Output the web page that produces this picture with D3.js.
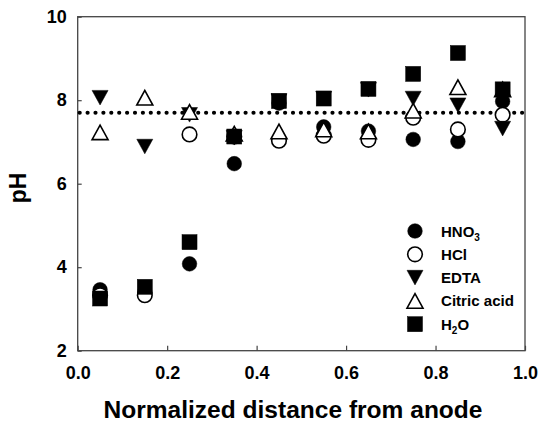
<!DOCTYPE html>
<html>
<head>
<meta charset="utf-8">
<script src="https://cdn.jsdelivr.net/npm/d3@7"></script>
<style>
    body { margin: 0; background: #fff; }
    text { font-family: Arial, "Liberation Sans", sans-serif; font-weight: bold; fill: #000; }
</style>
</head>
<body>
<div id="chart"></div>
<script>
// distance positions
var distance = [0.05, 0.15, 0.25, 0.35, 0.45, 0.55, 0.65, 0.75, 0.85, 0.95];

// pH values
var hno3 = [3.46, 3.40, 4.08, 6.48, 7.93, 7.36, 7.26, 7.06, 7.01, 7.97];
var hcl = [3.33, 3.33, 7.18, 7.13, 7.03, 7.15, 7.05, 7.58, 7.30, 7.65];
var edta = [8.06, 6.89, 7.65, 7.10, 7.98, 8.04, 8.25, 8.04, 7.88, 7.32];
var citric = [7.23, 8.06, 7.72, 7.20, 7.25, 7.30, 7.25, 7.75, 8.31, 8.26];
var water = [3.25, 3.53, 4.60, 7.13, 7.98, 8.04, 8.27, 8.63, 9.13, 8.26];

var initialPH = 7.7;

var seriesNames = ["HNO3", "HCl", "EDTA", "Citric acid", "H2O"];
var seriesValues = [hno3, hcl, edta, citric, water];
var seriesShapes = ["circle", "circle", "down", "up", "square"];
var seriesFilled = [true, false, true, false, true];

var xTicks = [0, 0.2, 0.4, 0.6, 0.8, 1.0];
var yTicks = [2, 4, 6, 8, 10];

var margin = { top: 16.7, right: 16, bottom: 73.3, left: 77.7 };
var width = 541 - margin.left - margin.right,
    height = 424 - margin.top - margin.bottom;

var svg = d3.select("#chart").append("svg")
    .attr("width", 541)
    .attr("height", 424)
    .append("g")
    .attr("transform", "translate(" + margin.left + "," + margin.top + ")");

var x = d3.scaleLinear().domain([0, 1]).range([0, width]);
var y = d3.scaleLinear().domain([2, 10]).range([height, 0]);

var xAxis = d3.axisBottom(x)
    .tickValues(xTicks)
    .tickFormat(d3.format(".1f"))
    .tickSizeInner(-5)
    .tickSizeOuter(0)
    .tickPadding(16);

var yAxis = d3.axisLeft(y)
    .tickValues(yTicks)
    .tickFormat(d3.format("d"))
    .tickSizeInner(-4)
    .tickSizeOuter(0)
    .tickPadding(11);

var xAxisElem = svg.append("g")
    .attr("transform", "translate(0," + height + ")")
    .call(xAxis);
xAxisElem.select(".domain").remove();
xAxisElem.selectAll("text").attr("font-size", "18px").attr("font-family", null);
xAxisElem.selectAll("line").attr("stroke", "#444").attr("stroke-width", 1.2);

var yAxisElem = svg.append("g").call(yAxis);
yAxisElem.select(".domain").remove();
yAxisElem.selectAll("text").attr("font-size", "18px").attr("font-family", null);
yAxisElem.selectAll("line").attr("stroke", "#444").attr("stroke-width", 1.2);

// frame
svg.append("rect")
    .attr("width", width)
    .attr("height", height)
    .attr("fill", "none")
    .attr("stroke", "#444")
    .attr("stroke-width", 1.3);

// dotted reference line
svg.append("line")
    .attr("x1", 2)
    .attr("x2", width)
    .attr("y1", y(initialPH))
    .attr("y2", y(initialPH))
    .attr("stroke", "#000")
    .attr("stroke-width", 4.2)
    .attr("stroke-linecap", "round")
    .attr("stroke-dasharray", "0 7.9");

function drawMarker(g, shape, filled, cx, cy) {
    var fill = filled ? "#000" : "#fff";
    var el;
    if (shape == "circle") {
        el = g.append("circle").attr("cx", cx).attr("cy", cy).attr("r", 7.3);
    } else if (shape == "square") {
        el = g.append("rect").attr("x", cx - 7.5).attr("y", cy - 7.5)
            .attr("width", 15).attr("height", 15);
    } else if (shape == "up") {
        el = g.append("path").attr("d", "M" + cx + "," + (cy - 7.3) +
            "L" + (cx + 8) + "," + (cy + 7.3) + "L" + (cx - 8) + "," + (cy + 7.3) + "Z");
    } else {
        el = g.append("path").attr("d", "M" + cx + "," + (cy + 7.3) +
            "L" + (cx + 8) + "," + (cy - 7.3) + "L" + (cx - 8) + "," + (cy - 7.3) + "Z");
    }
    el.attr("fill", fill)
        .attr("stroke", "#000")
        .attr("stroke-width", filled ? 0.5 : 1.6);
}

var points = svg.append("g");
seriesValues.forEach(function(vals, i) {
    vals.forEach(function(v, j) {
        drawMarker(points, seriesShapes[i], seriesFilled[i], x(distance[j]), y(v));
    });
});

// legend
var legend = svg.append("g")
    .attr("transform", "translate(" + (415 - margin.left) + "," + (231 - margin.top) + ")");

var labelWidths = { "HCl": 26, "EDTA": 40, "Citric acid": 73 };

seriesNames.forEach(function(name, i) {
    var ly = i * 23.3;
    drawMarker(legend, seriesShapes[i], seriesFilled[i], 0, ly);
    var t = legend.append("text")
        .attr("x", 26)
        .attr("y", ly + 5.5)
        .attr("font-size", "15px");
    if (name == "HNO3") {
        t.append("tspan").text("HNO");
        t.append("tspan").attr("font-size", "10px").attr("dy", 4).text("3");
    } else if (name == "H2O") {
        t.append("tspan").text("H");
        t.append("tspan").attr("font-size", "10px").attr("dy", 4).text("2");
        t.append("tspan").attr("dy", -4).text("O");
    } else {
        t.text(name)
            .attr("textLength", labelWidths[name])
            .attr("lengthAdjust", "spacingAndGlyphs");
    }
});

// axis titles
svg.append("text")
    .attr("x", 293 - margin.left)
    .attr("y", 418 - margin.top)
    .attr("text-anchor", "middle")
    .attr("font-size", "23px")
    .attr("textLength", 379)
    .attr("lengthAdjust", "spacingAndGlyphs")
    .text("Normalized distance from anode");

svg.append("text")
    .attr("text-anchor", "middle")
    .attr("font-size", "23px")
    .attr("transform", "translate(" + (26 - margin.left) + "," + (188 - margin.top) + ") rotate(-90)")
    .text("pH");
</script>
</body>
</html>
